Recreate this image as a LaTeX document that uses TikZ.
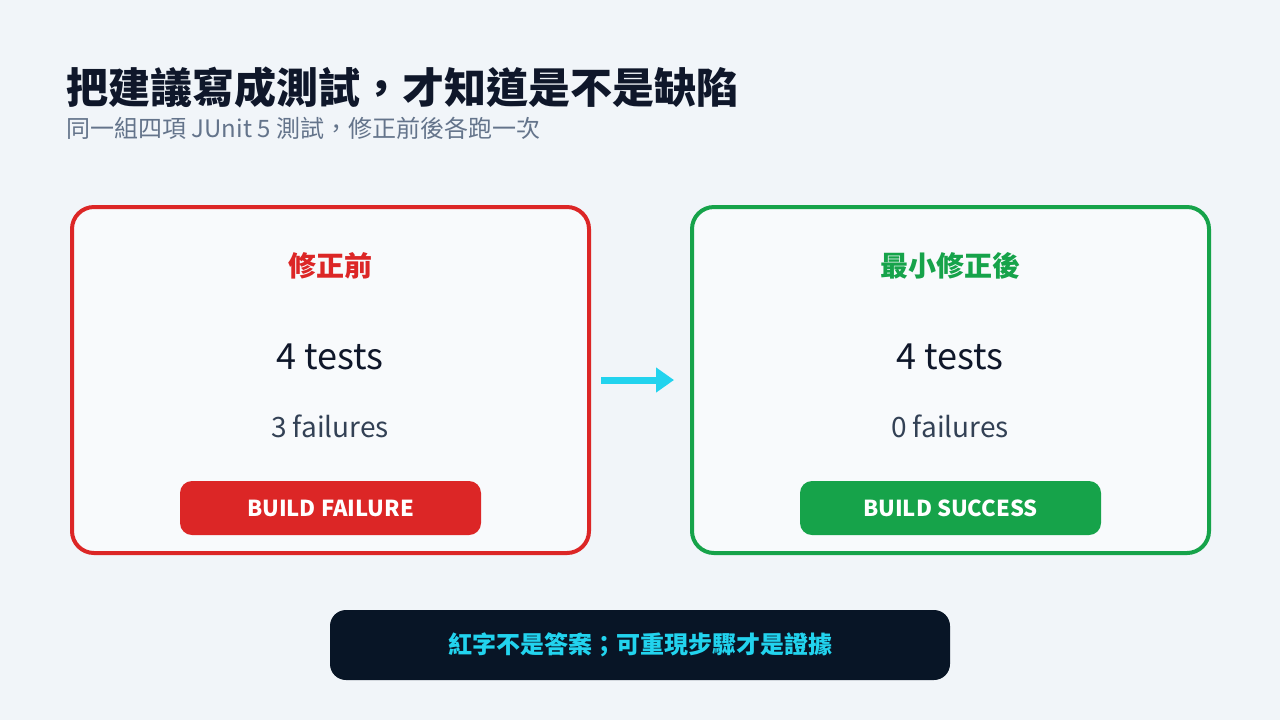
\documentclass[tikz,border=0pt]{standalone}
\usepackage{fontspec}
\setmainfont{Noto Sans CJK TC}
\usetikzlibrary{arrows.meta}
\definecolor{pagebg}{HTML}{F1F5F9}
\definecolor{cardbg}{HTML}{F8FAFC}
\definecolor{failred}{HTML}{DC2626}
\definecolor{passgreen}{HTML}{16A34A}
\definecolor{inkdark}{HTML}{0F172A}
\definecolor{inkmid}{HTML}{334155}
\definecolor{inkgray}{HTML}{64748B}
\definecolor{noteblue}{HTML}{081526}
\definecolor{cyanarrow}{HTML}{22D3EE}
\begin{document}
\begin{tikzpicture}[x=0.5pt,y=-0.5pt,
  card/.style={draw=#1,line width=2pt,fill=cardbg,rounded corners=11pt,
    minimum width=258.5pt,minimum height=173pt,inner sep=0pt},
  badge/.style={fill=#1,rounded corners=6pt,minimum width=150.5pt,
    minimum height=27pt,inner sep=0pt,text=white,font=\fontsize{11}{13}\selectfont\bfseries},
  heading/.style={font=\fontsize{14}{16}\selectfont\bfseries,text=#1},
  count/.style={font=\fontsize{18}{20}\selectfont,text=inkdark},
  fails/.style={font=\fontsize{14}{16}\selectfont,text=inkmid}
  ]
\fill[pagebg] (0,0) rectangle (1280,720);

% title
\node[anchor=base west,inner sep=0pt,text=inkdark,font=\fontsize{21}{24}\selectfont\bfseries]
  (title) at (66,103) {把建議寫成測試，才知道是不是缺陷};
\node[anchor=base west,inner sep=0pt,text=inkgray,font=\fontsize{12}{14}\selectfont]
  (subtitle) at (66,137) {同一組四項 JUnit 5 測試，修正前後各跑一次};

% before
\node[card=failred] (before) at (330.5,380) {};
\node[heading=failred] (beforehead) at (330,266) {修正前};
\node[count] (beforetests) at (330,357) {4 tests};
\node[fails] (beforefails) at (330,426) {3 failures};
\node[badge=failred] (beforebadge) at (330.5,508) {BUILD FAILURE};

% after
\node[card=passgreen] (after) at (950.5,380) {};
\node[heading=passgreen] (afterhead) at (950,266) {最小修正後};
\node[count] (aftertests) at (950,357) {4 tests};
\node[fails] (afterfails) at (950,426) {0 failures};
\node[badge=passgreen] (afterbadge) at (950.5,508) {BUILD SUCCESS};

\draw[cyanarrow,line width=3.5pt,-{Triangle[length=9pt,width=12pt]},
  shorten <=5pt,shorten >=8pt] (before.east) -- (after.west);

% note
\node[fill=noteblue,rounded corners=8pt,minimum width=310pt,minimum height=35pt,
  text=cyanarrow,font=\fontsize{12}{14}\selectfont\bfseries] (note) at (640,645)
  {紅字不是答案；可重現步驟才是證據};
\end{tikzpicture}
\end{document}
